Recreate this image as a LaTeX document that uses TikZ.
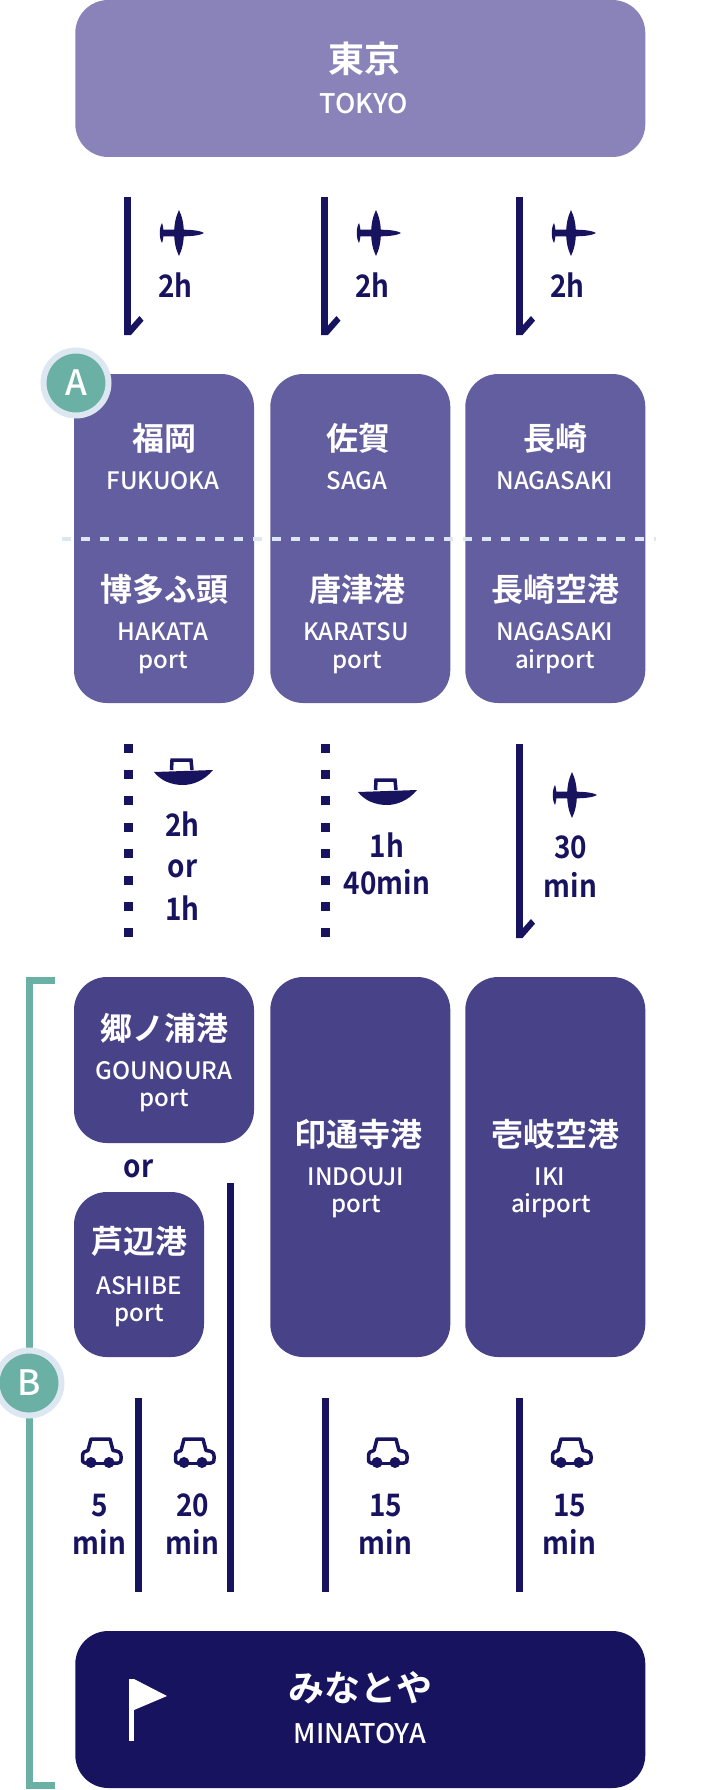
\documentclass[tikz,border=0pt]{standalone}
\usepackage{fontspec}
\setmainfont{Noto Sans CJK JP Medium}
\newfontfamily\timefont{Noto Sans CJK JP Bold}[FakeStretch=0.9]
\newfontfamily\namefont{Noto Sans CJK JP Bold}
\tikzset{
    legline/.style={draw=navy, line width=7pt},
    box/.style={rounded corners=33pt, inner sep=0pt},
    jatext/.style={anchor=base, text=white, font=\namefont\fontsize{32}{32}\selectfont},
    entext/.style={anchor=base, text=white, font=\fontsize{24}{24}\selectfont},
    bigja/.style={anchor=base, text=white, font=\namefont\fontsize{36}{36}\selectfont},
    bigen/.style={anchor=base, text=white, font=\fontsize{27}{27}\selectfont},
    timetext/.style={anchor=base, text=navy, font=\timefont\fontsize{31}{31}\selectfont},
    badge/.style={circle, fill=teal, draw=ring, line width=6pt, minimum size=65pt, inner sep=0pt, text=white, font=\fontsize{35}{35}\selectfont},
    planeicon/.pic={
        \fill[navy] (0,-23) .. controls (-6.5,-10) and (-6.5,10) .. (0,23) .. controls (6.5,10) and (6.5,-10) .. (0,-23) -- cycle;
        \fill[navy] (-16,-3.3) -- (4,-3.3) .. controls (14,-3.3) and (22,-2) .. (25,0) .. controls (22,2) and (14,3.3) .. (4,3.3) -- (-16,3.3) -- cycle;
        \fill[navy] (-17,-10) .. controls (-20,-5) and (-20,5) .. (-17,10) .. controls (-15,5) and (-15,-5) .. (-17,-10) -- cycle;
    },
    boaticon/.pic={
        \draw[navy, line width=3.5pt] (-12.5,0) -- (-12,-10) -- (7,-10) -- (8,0);
        \fill[navy] (-30,2) -- (29,0) .. controls (20,11) and (8,15) .. (-1,15) .. controls (-12,15) and (-23,11) .. (-30,2) -- cycle;
    },
    caricon/.pic={
        \draw[navy, line width=3pt, line join=round] (-7,10) -- (7,10);
        \draw[navy, line width=3.5pt, line join=round] (-11.5,10) -- (-16,10) .. controls (-18.5,10) and (-18.5,8) .. (-18.5,6) -- (-18.5,3) .. controls (-18.5,-1) and (-16,-2) .. (-13,-2.5) -- (-10,-14) -- (9,-14) -- (12,-2.5) .. controls (17,-2) and (20,-1) .. (20,3) -- (20,6) .. controls (20,8) and (20,10) .. (17,10) -- (11,10);
        \fill[navy] (-10,9.5) circle (5.5pt) (8,9.5) circle (5.5pt);
    },
    legtick/.pic={
        \fill[navy] (-3.5,0) -- (3.5,0) -- (16,-14.3) -- (12,-19) -- (3.5,-9.4) -- (3.5,0) -- cycle;
    }
}
\definecolor{navy}{HTML}{18135E}
\definecolor{lilac}{HTML}{8A83B9}
\definecolor{violet}{HTML}{635E9F}
\definecolor{indigo}{HTML}{484289}
\definecolor{teal}{HTML}{6AB0A4}
\definecolor{ring}{HTML}{DCE7F2}

\begin{document}
\begin{tikzpicture}[x=1pt, y=-1pt]
    \useasboundingbox (0,0) rectangle (720,1790);

    % boxes
    \node[box, fill=lilac, minimum width=570pt, minimum height=157pt] (tokyo) at (360.3,78.5) {};
    \foreach \n/\cx/\w in {fukuoka/164/180, saga/360.3/180, nagasaki/555.3/180}
        \node[box, fill=violet, minimum width=\w pt, minimum height=329pt] (\n) at (\cx,538.5) {};
    \node[box, fill=indigo, minimum width=180pt, minimum height=166pt] (gounoura) at (164,1060) {};
    \node[box, fill=indigo, minimum width=130pt, minimum height=165pt] (ashibe) at (139,1274.5) {};
    \node[box, fill=indigo, minimum width=180pt, minimum height=380pt] (indouji) at (360.3,1167) {};
    \node[box, fill=indigo, minimum width=180pt, minimum height=380pt] (iki) at (555.3,1167) {};
    \node[box, fill=navy, minimum width=570pt, minimum height=157pt] (minatoya) at (360.3,1709.5) {};

    % divider across the middle row
    \coordinate (divl) at (62,539);
    \coordinate (divr) at (656,539);
    \draw[ring, line width=4pt, dash pattern=on 9pt off 10.1pt] (divl) -- (divr);

    % names
    \node[bigja] (ja1) at (364,73) {東京};
    \node[bigen] (en1) at (364,114) {TOKYO};
    \node[bigja] (ja12) at (360,1701) {みなとや};
    \node[bigen] (en12) at (360,1743) {MINATOYA};
    \foreach \n/\x/\y/\txt in {
        ja2/164/450/福岡, ja3/358/450/佐賀, ja4/555/450/長崎,
        ja5/164/601/博多ふ頭, ja6/357/601/唐津港, ja7/555/601/長崎空港,
        ja8/164/1040/郷ノ浦港, ja9/139/1253/芦辺港, ja10/358/1146/印通寺港,
        ja11/555/1146/壱岐空港}
        \node[jatext] (\n) at (\x,\y) {\txt};
    \foreach \n/\x/\y/\txt in {
        en2/163/489/FUKUOKA, en3/357/489/SAGA, en4/555/489/NAGASAKI,
        en5/163/640/HAKATA, en6/356/640/KARATSU, en7/555/640/NAGASAKI,
        en8/164/1079/GOUNOURA, en9/139/1294/ASHIBE, en10/356/1185/INDOUJI,
        en11/550/1185/IKI,
        pt1/163/668/port, pt2/357/668/port, pt3/555/668/airport,
        pt4/164/1106/port, pt5/139/1321/port, pt6/356/1212/port, pt7/551/1212/airport}
        \node[entext] (\n) at (\x,\y) {\txt};

    % legs with a tick at the end
    \foreach \n/\x/\ya/\yb in {a/127.5/197/335, b/324.5/197/335, c/519/197/335, d/519/744/938} {
        \coordinate (top\n) at (\x,\ya);
        \coordinate (end\n) at (\x,\yb);
        \draw[legline] (top\n) -- (end\n);
        \pic at (end\n) {legtick};
    }
    % boat legs
    \foreach \n/\x in {e/128.7, f/325.7}
        \foreach \i in {0,...,7}
            \fill[navy] ({\x-4.5},{743.5+26.4*\i}) rectangle ++(9,9);
    % car legs
    \foreach \n/\x/\ya in {g/138.5/1398, h/230.5/1183, k/325/1398, m/519/1398} {
        \coordinate (top\n) at (\x,\ya);
        \coordinate (end\n) at (\x,1592);
        \draw[legline] (top\n) -- (end\n);
    }

    % icons
    \foreach \x/\y in {179/233, 376/233, 571/233, 572/795}
        \pic at (\x,\y) {planeicon};
    \foreach \x/\y in {184/770, 388/790}
        \pic at (\x,\y) {boaticon};
    \foreach \x/\y in {101/1453, 194/1453, 387/1453, 571/1453}
        \pic at (\x,\y) {caricon};

    % times
    \foreach \n/\x/\y/\txt in {
        t1/175.5/297/2h, t2/372.5/297/2h, t3/567.5/297/2h,
        t4/182.5/836/2h, t5/182.5/877/or, t6/182.5/920/1h,
        t7/387/857/1h, t8/387/894/40min, t9/570.5/858/30, t10/570.5/897/min,
        t11/99.5/1516/5, t12/99.5/1554/min, t13/192.5/1516/20, t14/192.5/1554/min,
        t15/385.5/1516/15, t16/385.5/1554/min, t17/569.5/1516/15, t18/569.5/1554/min,
        t19/138.5/1177/or}
        \node[timetext] (\n) at (\x,\y) {\txt};

    % flag
    \fill[white] (129,1679) rectangle (134,1741);
    \fill[white] (134,1679) -- (167,1696) -- (134,1710) -- cycle;

    % bracket B
    \coordinate (brt) at (55,980.5);
    \coordinate (brb) at (55,1785.5);
    \draw[teal, line width=7pt] (brt) -- (29.5,980.5) -- (29.5,1785.5) -- (brb);
    \node[badge] (badgea) at (76,383) {A};
    \node[badge] (badgeb) at (29,1383) {B};
\end{tikzpicture}
\end{document}
